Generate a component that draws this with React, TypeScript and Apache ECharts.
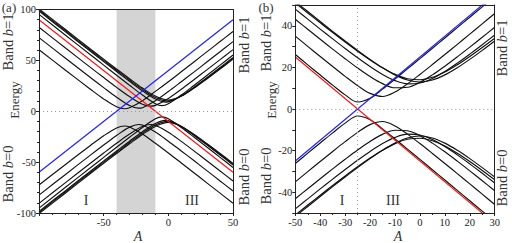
import React, { useEffect, useRef } from "react";
import * as echarts from "echarts";

// ---------- Panel (a): A from -100 to 50 ----------
const aA1 = [-100, -80, -60, -50, -40, -34, -30, -20, -10, 0, 10, 20, 30, 40, 50];
const aUp1 = [60.5, 40.8, 21.4, 12.1, 4.4, 2.5, 3.4, 10.4, 19.5, 29.0, 38.8, 48.7, 58.6, 68.5, 78.4];
const aLo1 = [-72.5, -52.8, -33.4, -24.1, -16.4, -14.5, -15.4, -22.4, -31.5, -41.0, -50.8, -60.7, -70.6, -80.5, -90.4];

const aA2 = [-100, -80, -60, -50, -40, -30, -23, -20, -10, 0, 10, 20, 30, 40, 50];
const aUp2 = [72.4, 52.6, 32.9, 23.2, 13.8, 5.6, 3.0, 3.5, 10.3, 19.4, 29.0, 38.7, 48.6, 58.5, 68.4];
const aLo2 = [-82.4, -62.6, -42.9, -33.2, -23.8, -15.6, -13.0, -13.5, -20.3, -29.4, -39.0, -48.7, -58.6, -68.5, -78.4];

const aA3 = [-100, -80, -60, -50, -40, -30, -20, -14, -10, 0, 10, 20, 30, 40, 50];
const aUp3 = [82.5, 62.6, 42.9, 33.1, 23.5, 14.4, 6.8, 5.0, 5.8, 12.6, 21.6, 31.2, 40.9, 50.7, 60.6];
const aLo3 = [-90.5, -70.6, -50.9, -41.1, -31.5, -22.4, -14.8, -13.0, -13.8, -20.6, -29.6, -39.2, -48.9, -58.7, -68.6];

const aA4 = [-100, -80, -60, -50, -40, -30, -20, -10, -5, 0, 10, 20, 30, 40, 50];
const aUp4 = [95.2, 75.2, 55.3, 45.3, 35.4, 25.6, 16.0, 7.4, 5.5, 7.4, 16.0, 25.6, 35.4, 45.3, 55.3];
const aLo4 = [-95.2, -75.2, -55.3, -45.3, -35.4, -25.6, -16.0, -7.4, -5.5, -7.4, -16.0, -25.6, -35.4, -45.3, -55.3];

const aA5 = [-100, -80, -60, -50, -40, -30, -20, -10, -2, 10, 20, 30, 40, 50];
const aUp5 = [98.4, 78.5, 58.7, 48.8, 39.1, 29.4, 20.1, 12.0, 9.0, 15.0, 23.8, 33.2, 43.0, 52.8];
const aLo5 = [-98.4, -78.5, -58.7, -48.8, -39.1, -29.4, -20.1, -12.0, -9.0, -15.0, -23.8, -33.2, -43.0, -52.8];

const aA6 = [-100, -80, -60, -50, -40, -30, -20, -10, -1, 10, 20, 30, 40, 50];
const aUp6 = [99.5, 79.6, 59.8, 50.0, 40.3, 30.7, 21.5, 13.5, 10.0, 14.9, 23.3, 32.6, 42.2, 52.0];
const aLo6 = [-99.5, -79.6, -59.8, -50.0, -40.3, -30.7, -21.5, -13.5, -10.0, -14.9, -23.3, -32.6, -42.2, -52.0];

const aA7 = [-100, -80, -60, -50, -40, -30, -20, -10, 0, 10, 20, 30, 40, 50];
const aUp7 = [100.6, 80.8, 61.0, 51.2, 41.5, 32.0, 22.8, 14.9, 11.0, 14.9, 22.8, 32.0, 41.5, 51.2];
const aLo7 = [-100.6, -80.8, -61.0, -51.2, -41.5, -32.0, -22.8, -14.9, -11.0, -14.9, -22.8, -32.0, -41.5, -51.2];

const aRedA = [-100, 50];
const aRedE = [90, -60];
const aBlueA = [-100, 50];
const aBlueE = [-60, 90];
const aShade = [-40, -10];

// ---------- Panel (b): A from -50 to 30 ----------
const bA = [-50, -45, -40, -35, -30, -25, -20, -15, -10, -5, 0, 5, 10, 15, 20, 25, 30];
const bUp1 = [26.2, 21.24, 16.32, 11.46, 6.8, 3.35, 5.12, 9.55, 14.36, 19.27, 24.21, 29.18, 34.15, 39.13, 44.12, 49.1, 54.09];
const bLo1 = [-26.2, -21.24, -16.32, -11.46, -6.8, -3.35, -5.12, -9.55, -14.36, -19.27, -24.21, -29.18, -34.15, -39.13, -44.12, -49.1, -54.09];
const bUp2 = [35.02, 30.1, 25.22, 20.4, 15.69, 11.24, 7.5, 6.02, 8.14, 12.09, 16.62, 21.36, 26.2, 31.08, 36.0, 40.94, 45.89];
const bLo2 = [-35.02, -30.1, -25.22, -20.4, -15.69, -11.24, -7.5, -6.02, -8.14, -12.09, -16.62, -21.36, -26.2, -31.08, -36.0, -40.94, -45.89];
const bUp3 = [43.17, 38.33, 33.53, 28.79, 24.17, 19.72, 15.62, 12.21, 10.2, 10.44, 12.81, 16.4, 20.59, 25.08, 29.73, 34.48, 39.29];
const bLo3 = [-43.17, -38.33, -33.53, -28.79, -24.17, -19.72, -15.62, -12.21, -10.2, -10.44, -12.81, -16.4, -20.59, -25.08, -29.73, -34.48, -39.29];
const bUp4 = [48.02, 43.2, 38.42, 33.71, 29.09, 24.62, 20.4, 16.62, 13.65, 12.09, 12.5, 14.71, 18.06, 22.05, 26.39, 30.92, 35.58];
const bLo4 = [-48.02, -43.2, -38.42, -33.71, -29.09, -24.62, -20.4, -16.62, -13.65, -12.09, -12.5, -14.71, -18.06, -22.05, -26.39, -30.92, -35.58];
const bUp5 = [50.96, 46.17, 41.44, 36.77, 32.2, 27.78, 23.6, 19.8, 16.64, 14.56, 14.04, 15.23, 17.8, 21.26, 25.24, 29.53, 34.01];
const bLo5 = [-50.96, -46.17, -41.44, -36.77, -32.2, -27.78, -23.6, -19.8, -16.64, -14.56, -14.04, -15.23, -17.8, -21.26, -25.24, -29.53, -34.01];
const bUp6 = [51.66, 46.84, 42.06, 37.34, 32.7, 28.18, 23.85, 19.85, 16.4, 13.93, 13.0, 13.93, 16.4, 19.85, 23.85, 28.18, 32.7];
const bLo6 = [-51.66, -46.84, -42.06, -37.34, -32.7, -28.18, -23.85, -19.85, -16.4, -13.93, -13.0, -13.93, -16.4, -19.85, -23.85, -28.18, -32.7];

const bRedA = [-50, 30];
const bRedE = [25, -55];
const bBlueA = [-50, 30];
const bBlueE = [-25, 55];
const bVLine = -25;

const serif = "'Liberation Serif', 'DejaVu Serif', serif";

const zip = (xs: number[], ys: number[]) => xs.map((x, i) => [x, ys[i]]);

function curve(xs: number[], ys: number[], idx: number, color = "#111", z = 3) {
  return {
    type: "line",
    xAxisIndex: idx,
    yAxisIndex: idx,
    data: zip(xs, ys),
    smooth: 0.35,
    showSymbol: false,
    symbol: "none",
    silent: true,
    clip: true,
    z,
    lineStyle: { color, width: 1.15 },
  };
}

function axisDef(grid: number, min: number, max: number, interval: number, minor: number, pos: string, labels: boolean, margin: number, fmt?: (v: number) => string) {
  return {
    gridIndex: grid,
    type: "value",
    min,
    max,
    interval,
    position: pos,
    z: 10,
    axisLine: { show: true, onZero: false, lineStyle: { color: "#222", width: 1 } },
    axisTick: { show: labels, inside: false, length: 3, lineStyle: { color: "#222" } },
    minorTick: { show: labels && minor > 0, splitNumber: minor || 1, length: 2, lineStyle: { color: "#222" } },
    splitLine: { show: false },
    axisLabel: {
      show: labels,
      fontFamily: serif,
      fontSize: 10.5,
      color: "#222",
      margin,
      formatter: fmt || ((v: number) => String(v)),
    },
  };
}

function bandText(x: number, y: number, digit: string) {
  return {
    type: "text",
    x,
    y,
    rotation: Math.PI / 2,
    silent: true,
    style: {
      text: "{r|Band }{i|b}{r|=" + digit + "}",
      align: "center",
      verticalAlign: "middle",
      rich: {
        r: { fontFamily: serif, fontSize: 14.5, fill: "#333" },
        i: { fontFamily: serif, fontSize: 14.5, fontStyle: "italic", fill: "#333" },
      },
    },
  };
}

function plainText(x: number, y: number, text: string, size: number, italic = false, rot = 0) {
  return {
    type: "text",
    x,
    y,
    rotation: rot,
    silent: true,
    style: {
      text,
      align: "center",
      verticalAlign: "middle",
      fontFamily: serif,
      fontSize: size,
      fontStyle: italic ? "italic" : "normal",
      fill: "#333",
    },
  };
}

export default function App() {
  const ref = useRef<HTMLDivElement>(null);
  useEffect(() => {
    if (!ref.current) return;
    const chart = echarts.init(ref.current, null, { renderer: "svg" });
    const option = {
      animation: false,
      backgroundColor: "#fff",
      grid: [
        { left: 39, top: 9.5, width: 194, height: 203.5, show: false },
        { left: 295.3, top: 5, width: 199.4, height: 208, show: false },
      ],
      xAxis: [
        axisDef(0, -100, 50, 50, 5, "bottom", true, 4, (v) => (v === -100 ? "" : String(v))),
        axisDef(0, -100, 50, 50, 0, "top", false, 4),
        axisDef(1, -50, 30, 10, 2, "bottom", true, 4),
        axisDef(1, -50, 30, 10, 0, "top", false, 4),
      ],
      yAxis: [
        axisDef(0, -100, 100, 50, 5, "left", true, 3),
        axisDef(0, -100, 100, 50, 0, "right", false, 3),
        axisDef(1, -50, 50, 10, 0, "left", true, 3, (v) => (v % 20 === 0 && Math.abs(v) < 50 ? String(v) : "")),
        axisDef(1, -50, 50, 10, 0, "right", false, 3),
      ],
      series: [
        {
          type: "line",
          xAxisIndex: 0,
          yAxisIndex: 0,
          data: [],
          z: 1,
          silent: true,
          markArea: {
            silent: true,
            itemStyle: { color: "#d4d4d4", opacity: 1 },
            data: [[{ xAxis: aShade[0] }, { xAxis: aShade[1] }]],
          },
          markLine: {
            silent: true,
            symbol: "none",
            label: { show: false },
            lineStyle: { color: "#9a9a9a", type: [1, 3], width: 1 },
            data: [{ yAxis: 0 }],
          },
        },
        {
          type: "line",
          xAxisIndex: 2,
          yAxisIndex: 2,
          data: [],
          z: 1,
          silent: true,
          markLine: {
            silent: true,
            symbol: "none",
            label: { show: false },
            lineStyle: { color: "#9a9a9a", type: [1, 3], width: 1 },
            data: [{ yAxis: 0 }, { xAxis: bVLine }],
          },
        },
        curve(aA1, aUp1, 0), curve(aA1, aLo1, 0),
        curve(aA2, aUp2, 0), curve(aA2, aLo2, 0),
        curve(aA3, aUp3, 0), curve(aA3, aLo3, 0),
        curve(aA4, aUp4, 0), curve(aA4, aLo4, 0),
        curve(aA5, aUp5, 0), curve(aA5, aLo5, 0),
        curve(aA6, aUp6, 0), curve(aA6, aLo6, 0),
        curve(aA7, aUp7, 0), curve(aA7, aLo7, 0),
        curve(aRedA, aRedE, 0, "#f01818", 4),
        curve(aBlueA, aBlueE, 0, "#2020f4", 4),
        curve(bA, bUp1, 2), curve(bA, bLo1, 2),
        curve(bA, bUp2, 2), curve(bA, bLo2, 2),
        curve(bA, bUp3, 2), curve(bA, bLo3, 2),
        curve(bA, bUp4, 2), curve(bA, bLo4, 2),
        curve(bA, bUp5, 2), curve(bA, bLo5, 2),
        curve(bA, bUp6, 2), curve(bA, bLo6, 2),
        curve(bRedA, bRedE, 2, "#f01818", 4),
        curve(bBlueA, bBlueE, 2, "#2020f4", 4),
      ],
      graphic: [
        plainText(9, 7, "(a)", 13),
        bandText(7.5, 42, "1"),
        plainText(14, 100, "Energy", 13, false, Math.PI / 2),
        bandText(7.5, 174, "0"),
        bandText(244, 45, "1"),
        bandText(244, 177, "0"),
        plainText(86, 200, "I", 14),
        plainText(133, 200, "II", 14),
        plainText(192, 200, "III", 14),
        plainText(138, 236, "A", 14, true),
        plainText(266, 7, "(b)", 13),
        bandText(265.5, 43, "1"),
        plainText(271.5, 100, "Energy", 13, false, Math.PI / 2),
        bandText(265.5, 176, "0"),
        bandText(502, 48, "1"),
        bandText(502, 178, "0"),
        plainText(342, 200, "I", 14),
        plainText(393, 200, "III", 14),
        plainText(398, 236, "A", 14, true),
      ],
    };
    chart.setOption(option as any);
    return () => chart.dispose();
  }, []);
  return (
    <div
      ref={ref}
      style={{ position: "fixed", left: 0, top: 0, width: 512, height: 243, background: "#fff" }}
    />
  );
}
